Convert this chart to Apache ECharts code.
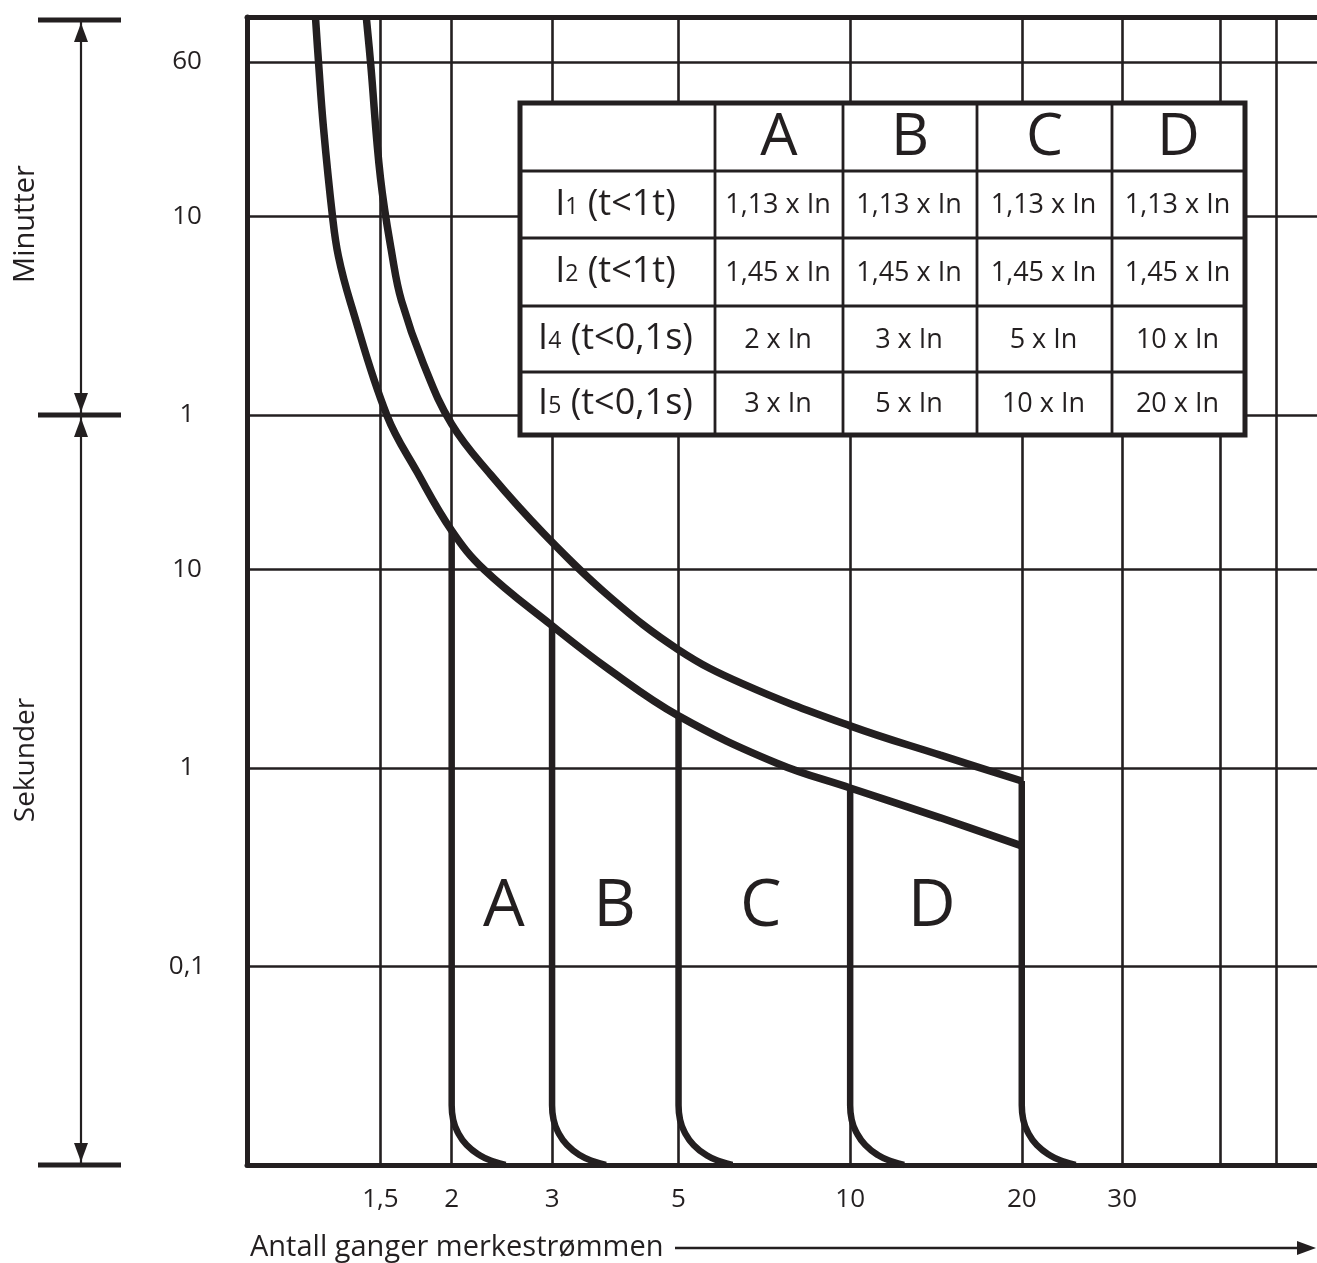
<!DOCTYPE html>
<html><head><meta charset="utf-8">
<script src="https://cdn.jsdelivr.net/npm/echarts@6/dist/echarts.min.js"></script>
<style>html,body{margin:0;padding:0;background:#fff}#c{width:1317px;height:1263px}</style>
</head><body><div id="c"></div><script>
const INK = '#231f20';
const FONT = '"Open Sans", "Noto Sans", sans-serif';

// ---- axis ticks ----
const xTickValues = [1.5, 2, 3, 5, 10, 20, 30];
const xTickLabels = ['1,5', '2', '3', '5', '10', '20', '30'];
const xUnlabeledGrid = [44.6, 55.9];
const yTickValues = [3600, 600, 60, 10, 1, 0.1];
const yTickLabels = ['60', '10', '1', '10', '1', '0,1'];

// ---- band curves (I / In, t in seconds) ----
const lowerI = [1.154, 1.168, 1.191, 1.236, 1.266, 1.329, 1.539, 1.739, 2, 2.279, 3, 3.78, 5, 7.42, 10, 14.4, 20];
const lowerT = [6000, 3600, 1713, 600, 377, 221, 60, 31, 15.7, 10, 5.21, 3.13, 1.83, 1.06, 0.793, 0.561, 0.405];
const upperI = [1.417, 1.441, 1.5, 1.574, 1.633, 1.784, 2, 2.342, 2.893, 3.78, 5, 6.47, 10, 14.4, 20];
const upperT = [6000, 3600, 939, 377, 226, 109, 54, 30, 15.3, 7.31, 3.94, 2.66, 1.63, 1.16, 0.86];

// ---- instantaneous trip lines (vertical part top) ----
const tripNames = ['A', 'B', 'C', 'D', 'limit'];
const tripI = [2, 3, 5, 10, 20];
const tripTopT = [15.7, 5.21, 1.83, 0.793, 0.86];
// tails at the bottom
const tailT = [0.02, 0.0169, 0.0145, 0.0126, 0.0112, 0.0104, 0.01];
const tailA = [2, 2.012, 2.053, 2.125, 2.240, 2.370, 2.487];
const tailB = [3, 3.018, 3.080, 3.188, 3.359, 3.555, 3.731];
const tailC = [5, 5.03, 5.133, 5.313, 5.599, 5.925, 6.218];
const tailD = [10, 10.06, 10.27, 10.63, 11.20, 11.85, 12.44];
const tail20 = [20, 20.12, 20.53, 21.25, 22.40, 23.70, 24.87];
const tails = [tailA, tailB, tailC, tailD, tail20];

// ---- zone letters ----
const zoneLetters = ['A', 'B', 'C', 'D'];
const zoneI = [2.47, 3.86, 6.97, 13.9];
const zoneT = [0.2, 0.2, 0.2, 0.2];

// ---- table ----
const tableCols = ['A', 'B', 'C', 'D'];
const tableRowSub = ['1', '2', '4', '5'];
const tableRowCond = [' (t<1t)', ' (t<1t)', ' (t<0,1s)', ' (t<0,1s)'];
const tableValues = [
  ['1,13 x In', '1,13 x In', '1,13 x In', '1,13 x In'],
  ['1,45 x In', '1,45 x In', '1,45 x In', '1,45 x In'],
  ['2 x In', '3 x In', '5 x In', '10 x In'],
  ['3 x In', '5 x In', '10 x In', '20 x In']
];

const xAxisTitle = 'Antall ganger merkestrømmen';
const yTitleMin = 'Minutter';
const yTitleSec = 'Sekunder';

function lookup(values, labels, v) {
  for (let i = 0; i < values.length; i++) {
    if (Math.abs(Math.log10(v) - Math.log10(values[i])) < 1e-4) return labels[i];
  }
  return '';
}

const chart = echarts.init(document.getElementById('c'), null, {renderer: 'canvas'});

const zip = (a, b) => a.map((v, i) => [v, b[i]]);

const series = [];
series.push({
  type: 'line', data: [], z: 1, silent: true,
  markLine: {
    silent: true, symbol: ['none', 'none'], animation: false,
    label: {show: false},
    lineStyle: {color: INK, width: 2.6, type: 'solid'},
    emphasis: {disabled: true},
    data: xTickValues.concat(xUnlabeledGrid).map(v => ({xAxis: v}))
      .concat(yTickValues.map(v => ({yAxis: v})))
  }
});
series.push({
  name: 'lower', type: 'line', data: zip(lowerI, lowerT), smooth: 0.4,
  showSymbol: false, z: 3, lineStyle: {color: INK, width: 7.5}
});
series.push({
  name: 'upper', type: 'line', data: zip(upperI, upperT), smooth: 0.4,
  showSymbol: false, z: 3, lineStyle: {color: INK, width: 7.5}
});
tripI.forEach((I, k) => {
  series.push({
    name: tripNames[k], type: 'line',
    data: [[I, tripTopT[k]]].concat(zip(tails[k], tailT)),
    smooth: 0.5, showSymbol: false, z: 3,
    lineStyle: {color: INK, width: 6.5}
  });
});
series.push({
  type: 'scatter', symbolSize: 0, z: 4,
  itemStyle: {opacity: 1},
  data: zoneLetters.map((n, i) => ({name: n, value: [zoneI[i], zoneT[i]]})),
  label: {show: true, position: 'inside', formatter: p => p.name, opacity: 1,
    fontSize: 66, fontFamily: FONT, color: INK, textBorderWidth: 0}
});

chart.setOption({
  animation: false,
  backgroundColor: '#fff',
  grid: {left: 247, top: 17, width: 1070, height: 1148, containLabel: false},
  xAxis: [{
    type: 'log', logBase: 10, min: 0.875, max: 65.9, position: 'bottom',
    axisLine: {show: true, onZero: false, lineStyle: {color: INK, width: 5}},
    axisTick: {show: false}, splitLine: {show: false},
    axisLabel: {customValues: xTickValues, formatter: v => lookup(xTickValues, xTickLabels, v),
      fontSize: 26, fontFamily: FONT, color: INK, margin: 22}
  }, {
    type: 'log', logBase: 10, min: 0.875, max: 65.9, position: 'top',
    axisLine: {show: true, onZero: false, lineStyle: {color: INK, width: 5}},
    axisTick: {show: false}, splitLine: {show: false}, axisLabel: {show: false}
  }],
  yAxis: {
    type: 'log', logBase: 10, min: 0.01, max: 6070,
    axisLine: {show: true, onZero: false, lineStyle: {color: INK, width: 5}},
    axisTick: {show: false}, splitLine: {show: false},
    axisLabel: {customValues: yTickValues, formatter: v => lookup(yTickValues, yTickLabels, v),
      fontSize: 26, fontFamily: FONT, color: INK, margin: 60, align: 'center'}
  },
  series: series
});

// ---- annotations: bracket, titles, table ----
const toY = v => chart.convertToPixel({yAxisIndex: 0}, v);
const yTop = toY(6070), y60 = toY(60), yBot = toY(0.01);
const g = [];
const bx = 81;
function hbar(y) {
  g.push({type: 'line', shape: {x1: 38, y1: y, x2: 121, y2: y}, style: {stroke: INK, lineWidth: 5}, silent: true});
}
function arrow(tipY, dir) { // dir -1 up, +1 down
  g.push({type: 'polygon', shape: {points: [[bx, tipY], [bx - 7, tipY - dir * 19], [bx + 7, tipY - dir * 19]]},
    style: {fill: INK}, silent: true});
}
hbar(yTop + 3); hbar(y60); hbar(yBot);
g.push({type: 'line', shape: {x1: bx, y1: yTop + 3, x2: bx, y2: yBot}, style: {stroke: INK, lineWidth: 2.2}, silent: true});
arrow(yTop + 6, -1); arrow(y60 - 3, 1); arrow(y60 + 3, -1); arrow(yBot - 3, 1);
g.push({type: 'text', x: 26, y: (yTop + y60) / 2 + 8, rotation: Math.PI / 2,
  style: {text: yTitleMin, align: 'center', verticalAlign: 'middle', fontSize: 29, fontFamily: FONT, fill: INK}});
g.push({type: 'text', x: 26, y: (y60 + yBot) / 2 - 30, rotation: Math.PI / 2,
  style: {text: yTitleSec, align: 'center', verticalAlign: 'middle', fontSize: 28, fontFamily: FONT, fill: INK}});
// x title and arrow
g.push({type: 'text', x: 250, y: 1248,
  style: {text: xAxisTitle, align: 'left', verticalAlign: 'middle', fontSize: 29, fontFamily: FONT, fill: INK}});
g.push({type: 'line', shape: {x1: 675, y1: 1248, x2: 1300, y2: 1248}, style: {stroke: INK, lineWidth: 2.5}});
g.push({type: 'polygon', shape: {points: [[1316, 1248], [1297, 1241], [1297, 1255]]}, style: {fill: INK}});

// table
const colX = [520, 715, 843, 977, 1112, 1245];
const rowY = [103, 171, 238, 306, 372, 435];
g.push({type: 'rect', shape: {x: colX[0], y: rowY[0], width: colX[5] - colX[0], height: rowY[5] - rowY[0]},
  style: {fill: '#fff', stroke: null}, z: 10});
for (let i = 1; i < 5; i++) {
  g.push({type: 'line', shape: {x1: colX[i], y1: rowY[0], x2: colX[i], y2: rowY[5]}, style: {stroke: INK, lineWidth: 2.8}, z: 11});
  g.push({type: 'line', shape: {x1: colX[0], y1: rowY[i], x2: colX[5], y2: rowY[i]}, style: {stroke: INK, lineWidth: 2.8}, z: 11});
}
g.push({type: 'rect', shape: {x: colX[0], y: rowY[0], width: colX[5] - colX[0], height: rowY[5] - rowY[0]},
  style: {fill: null, stroke: INK, lineWidth: 5}, z: 12});
tableCols.forEach((c, j) => {
  g.push({type: 'text', x: (colX[j + 1] + colX[j + 2]) / 2, y: (rowY[0] + rowY[1]) / 2 + 1, z: 13,
    style: {text: c, align: 'center', verticalAlign: 'middle', fontSize: 59, fontFamily: FONT, fill: INK}});
});
tableRowSub.forEach((s, i) => {
  const cy = (rowY[i + 1] + rowY[i + 2]) / 2;
  g.push({type: 'text', x: (colX[0] + colX[1]) / 2 - 2, y: cy, z: 13,
    style: {text: '{m|I}{s|' + s + '}{m|' + tableRowCond[i] + '}', align: 'center', verticalAlign: 'middle',
      rich: {m: {fontSize: 36, fontFamily: FONT, fill: INK},
             s: {fontSize: 23, fontFamily: FONT, fill: INK, verticalAlign: 'bottom', padding: [0, 0, 4, 0]}}}});
  tableValues[i].forEach((v, j) => {
    g.push({type: 'text', x: (colX[j + 1] + colX[j + 2]) / 2 - 1, y: cy + 1, z: 13,
      style: {text: v, align: 'center', verticalAlign: 'middle', fontSize: 27, fontFamily: FONT, fill: INK}});
  });
});
chart.setOption({graphic: g});
</script></body></html>
